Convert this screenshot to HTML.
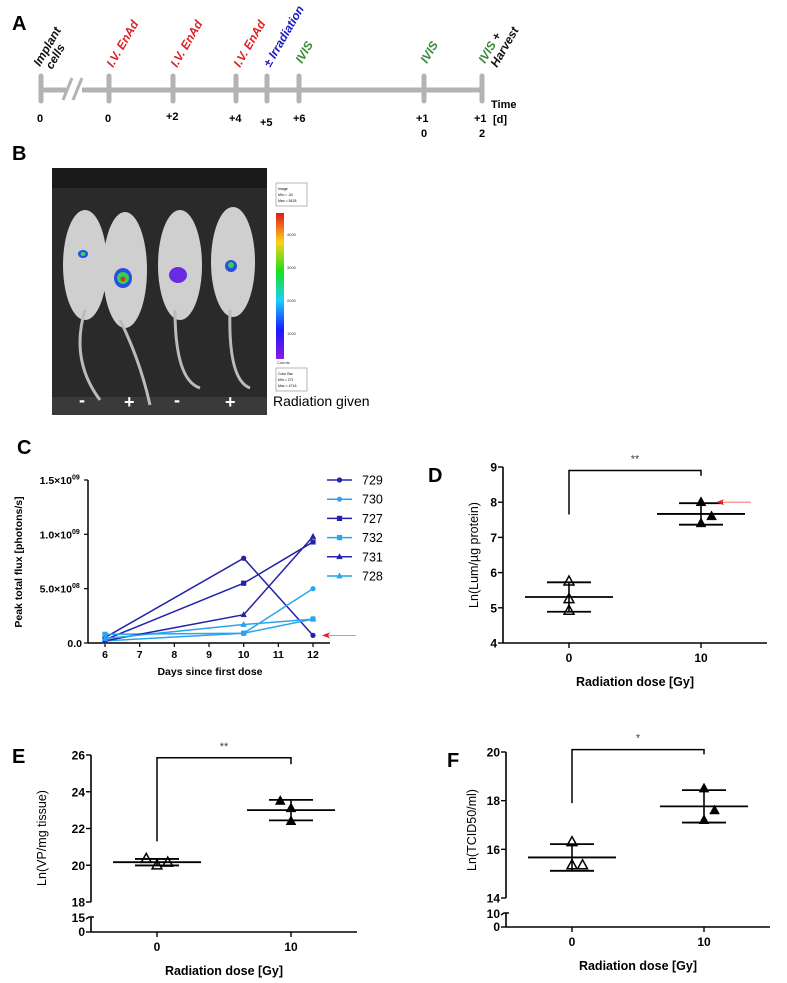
<!DOCTYPE html>
<html><head><meta charset="utf-8"><style>
body{margin:0;background:#fff;}
svg{display:block;font-family:"Liberation Sans",Arial,sans-serif;}
</style></head><body>
<svg id="fig" width="787" height="983" viewBox="0 0 787 983">
<g>
<text x="12" y="30" font-size="20" font-weight="bold">A</text>
<line x1="40" y1="90" x2="482" y2="90" stroke="#b3b3b3" stroke-width="5"/>
<rect x="66" y="78" width="16" height="24" fill="#fff"/>
<line x1="63" y1="100" x2="72" y2="78" stroke="#b3b3b3" stroke-width="3"/>
<line x1="73" y1="100" x2="82" y2="78" stroke="#b3b3b3" stroke-width="3"/>
<g stroke="#b3b3b3" stroke-width="5" stroke-linecap="round">
<line x1="41" y1="76" x2="41" y2="101"/><line x1="109" y1="76" x2="109" y2="101"/><line x1="173" y1="76" x2="173" y2="101"/>
<line x1="236" y1="76" x2="236" y2="101"/><line x1="267" y1="76" x2="267" y2="101"/><line x1="299" y1="76" x2="299" y2="101"/>
<line x1="424" y1="76" x2="424" y2="101"/><line x1="482" y1="76" x2="482" y2="101"/>
</g>
<g font-size="11" font-weight="bold">
<text x="37" y="122">0</text><text x="105" y="122">0</text><text x="166" y="120">+2</text><text x="229" y="122">+4</text>
<text x="260" y="126">+5</text><text x="293" y="122">+6</text><text x="416" y="122">+1</text><text x="421" y="137">0</text>
<text x="474" y="122">+1</text><text x="479" y="137">2</text>
<text x="491" y="108">Time</text><text x="493" y="123">[d]</text>
</g>
<g font-size="12" font-weight="bold" font-style="italic">
<text transform="translate(40,67) rotate(-60)" fill="#111">Implant</text>
<text transform="translate(52,70) rotate(-60)" fill="#111">cells</text>
<text transform="translate(113,68) rotate(-60)" fill="#d22">I.V. EnAd</text>
<text transform="translate(177,68) rotate(-60)" fill="#d22">I.V. EnAd</text>
<text transform="translate(240,68) rotate(-60)" fill="#d22">I.V. EnAd</text>
<text transform="translate(270,68) rotate(-60)" fill="#1a1abf">± Irradiation</text>
<text transform="translate(302,64) rotate(-60)" fill="#3a8a3a">IVIS</text>
<text transform="translate(427,64) rotate(-60)" fill="#3a8a3a">IVIS</text>
<text transform="translate(485,64) rotate(-60)"><tspan fill="#3a8a3a">IVIS</tspan><tspan fill="#111"> +</tspan></text>
<text transform="translate(497,68) rotate(-60)" fill="#111">Harvest</text>
</g>
</g>

<g>
<text x="12" y="160" font-size="20" font-weight="bold">B</text>
<rect x="52" y="168" width="215" height="247" fill="#2a2a2a"/>
<rect x="52" y="168" width="215" height="20" fill="#1a1a1a"/>
<rect x="52" y="397" width="215" height="18" fill="#3a3a3a"/>
<g fill="#cfcfcf">
<ellipse cx="85" cy="265" rx="22" ry="55"/><path d="M85 310 Q70 360 100 400" stroke="#bbb" stroke-width="3" fill="none"/>
<ellipse cx="125" cy="270" rx="22" ry="58"/><path d="M120 320 Q140 360 150 405" stroke="#bbb" stroke-width="3" fill="none"/>
<ellipse cx="180" cy="265" rx="22" ry="55"/><path d="M175 310 Q175 380 200 388" stroke="#bbb" stroke-width="3" fill="none"/>
<ellipse cx="233" cy="262" rx="22" ry="55"/><path d="M230 310 Q228 380 250 388" stroke="#bbb" stroke-width="3" fill="none"/>
</g>
<g>
<ellipse cx="83" cy="254" rx="5" ry="4" fill="#1f4fe0"/><ellipse cx="83" cy="254" rx="2.5" ry="2" fill="#3fd06a"/>
<ellipse cx="123" cy="278" rx="9" ry="10" fill="#2a4fe0"/><ellipse cx="123" cy="278" rx="6" ry="6" fill="#30d050"/><circle cx="123" cy="279" r="2.5" fill="#e03020"/>
<ellipse cx="178" cy="275" rx="9" ry="8" fill="#6a2ae0"/>
<ellipse cx="231" cy="266" rx="6" ry="6" fill="#2a4fe0"/><ellipse cx="231" cy="265" rx="3" ry="3" fill="#30d050"/>
</g>
<g fill="#fff" font-size="18" font-weight="bold">
<text x="79" y="406">-</text><text x="124" y="408">+</text><text x="174" y="406">-</text><text x="225" y="408">+</text>
</g>
<defs><linearGradient id="cb" x1="0" y1="1" x2="0" y2="0">
<stop offset="0" stop-color="#8a1ae0"/><stop offset="0.2" stop-color="#1a1aff"/><stop offset="0.4" stop-color="#1ad0ff"/>
<stop offset="0.6" stop-color="#1ae01a"/><stop offset="0.8" stop-color="#ffd01a"/><stop offset="1" stop-color="#e01a1a"/></linearGradient></defs>
<rect x="276" y="213" width="8" height="146" fill="url(#cb)"/>
<rect x="276" y="183" width="31" height="23" fill="#fff" stroke="#888" stroke-width="0.6"/>
<text x="278" y="190" font-size="3.5">Image</text><text x="278" y="196" font-size="3.5">Min = -34</text><text x="278" y="202" font-size="3.5">Max = 5428</text>
<rect x="276" y="368" width="31" height="23" fill="#fff" stroke="#888" stroke-width="0.6"/>
<text x="278" y="375" font-size="3.5">Color Bar</text><text x="278" y="381" font-size="3.5">Min = 271</text><text x="278" y="387" font-size="3.5">Max = 4716</text>
<g font-size="4" fill="#333"><text x="287" y="236">4000</text><text x="287" y="269">3000</text><text x="287" y="302">2000</text><text x="287" y="335">1000</text><text x="277" y="364">Counts</text></g>
<text x="273" y="406" font-size="14">Radiation given</text>
</g>

<g id="pc"></g>
<g id="pd"></g>
<g id="pe"></g>
<g id="pf"></g>
</svg>
<script>
// Panel C data
const cDays = [6, 10, 12];
const cMice = ["729", "730", "727", "732", "731", "728"];
const cFlux729 = [0.05e9, 0.78e9, 0.07e9];
const cFlux730 = [0.02e9, 0.09e9, 0.50e9];
const cFlux727 = [0.03e9, 0.55e9, 0.93e9];
const cFlux732 = [0.08e9, 0.09e9, 0.22e9];
const cFlux731 = [0.02e9, 0.26e9, 0.98e9];
const cFlux728 = [0.04e9, 0.17e9, 0.22e9];
const cYTicks = [0, 0.5e9, 1.0e9, 1.5e9];
const cYTickLabels = ["0.0", "5.0\u00d710", "1.0\u00d710", "1.5\u00d710"];
const cYTickExp = ["", "08", "09", "09"];
const cXTicks = [6, 7, 8, 9, 10, 11, 12];
// Panel D data
const dDoses = [0, 10];
const dGroup0 = [5.75, 5.25, 4.92];
const dGroup10 = [8.0, 7.6, 7.4];
const dOffsets0 = [0, 0, 0];
const dOffsets10 = [0, 0.8, 0];
const dYTicks = [4, 5, 6, 7, 8, 9];
// Panel E data
const eGroup0 = [20.35, 20.0, 20.15];
const eGroup10 = [23.5, 23.1, 22.4];
const eOffsets0 = [-0.8, 0, 0.8];
const eOffsets10 = [-0.8, 0, 0];
const eYTicks = [18, 20, 22, 24, 26];
// Panel F data
const fGroup0 = [16.3, 15.35, 15.35];
const fGroup10 = [18.5, 17.6, 17.2];
const fOffsets0 = [0, 0, 0.8];
const fOffsets10 = [0, 0.8, 0];
const fYTicks = [14, 16, 18, 20];

const NS = "http://www.w3.org/2000/svg";
function mk(parent, tag, attrs, txt) {
  const el = document.createElementNS(NS, tag);
  for (const k in attrs) el.setAttribute(k, attrs[k]);
  if (txt !== undefined) el.textContent = txt;
  parent.appendChild(el);
  return el;
}
function marker(g, shape, x, y, color, filled, s) {
  let el;
  if (shape === "circle") el = mk(g, "circle", {cx: x, cy: y, r: s, fill: color});
  else if (shape === "square") el = mk(g, "rect", {x: x - s, y: y - s, width: 2 * s, height: 2 * s, fill: color});
  else el = mk(g, "polygon", {points: (x) + "," + (y - s * 1.2) + " " + (x - s * 1.1) + "," + (y + s * 0.8) + " " + (x + s * 1.1) + "," + (y + s * 0.8),
    fill: filled ? color : "#fff", stroke: color, "stroke-width": filled ? 0.5 : 1.5});
  return el;
}

// ---------- Panel C ----------
(function () {
  const g = document.getElementById("pc");
  const x0 = 88, yb = 643, yt = 480;
  const xs = d => 105 + (d - 6) * (313 - 105) / 6;
  const ys = v => yb - v / 1.5e9 * (yb - yt);
  let t = mk(g, "text", {x: 17, y: 454, "font-size": 20, "font-weight": "bold"}, "C");
  
  
  let ax = mk(g, "line", {x1: x0, y1: yt, x2: x0, y2: yb, stroke: "#000", "stroke-width": 1.5});
  
  
  let axx = mk(g, "line", {x1: x0, y1: yb, x2: 330, y2: yb, stroke: "#000", "stroke-width": 1.5});
  
  
  cYTicks.forEach((v, i) => {
    mk(g, "line", {x1: x0 - 4, y1: ys(v), x2: x0, y2: ys(v), stroke: "#000", "stroke-width": 1.2});
    const tx = mk(g, "text", {x: x0 - 6, y: ys(v) + 4, "font-size": 10.5, "font-weight": "bold", "text-anchor": "end"});
    
    
    tx.textContent = cYTickLabels[i];
    if (cYTickExp[i]) {
      tx.setAttribute("x", x0 - 16);
      mk(g, "text", {x: x0 - 16, y: ys(v) - 0.5, "font-size": 7, "font-weight": "bold"}, cYTickExp[i]);
    }
  });
  cXTicks.forEach(d => {
    mk(g, "line", {x1: xs(d), y1: yb, x2: xs(d), y2: yb + 4, stroke: "#000", "stroke-width": 1.2});
    const tx = mk(g, "text", {x: xs(d), y: yb + 15, "font-size": 10.5, "font-weight": "bold", "text-anchor": "middle"}, d);
    
    
  });
  const yl = mk(g, "text", {transform: "translate(22,562) rotate(-90)", "font-size": 10.5, "font-weight": "bold", "text-anchor": "middle"}, "Peak total flux [photons/s]");
  
  
  const xl = mk(g, "text", {x: 210, y: 675, "font-size": 10.5, "font-weight": "bold", "text-anchor": "middle"}, "Days since first dose");
  
  
  const series = [cFlux729, cFlux730, cFlux727, cFlux732, cFlux731, cFlux728];
  const colors = ["#2323a8", "#2aa4ee", "#2323a8", "#2aa4ee", "#2323a8", "#2aa4ee"];
  const shapes = ["circle", "circle", "square", "square", "triangle", "triangle"];
  series.forEach((vals, si) => {
    const sg = mk(g, "g", {});
    
    
    const pts = vals.map((v, i) => xs(cDays[i]) + "," + ys(v)).join(" ");
    mk(sg, "polyline", {points: pts, fill: "none", stroke: colors[si], "stroke-width": 1.5});
    vals.forEach((v, i) => {
      const m = marker(sg, shapes[si], xs(cDays[i]), ys(v), colors[si], true, 2.6);
      
      
    });
    const ly = 480 + si * 19.2;
    const lg = mk(g, "g", {});
    
    
    mk(lg, "line", {x1: 327, y1: ly, x2: 352, y2: ly, stroke: colors[si], "stroke-width": 1.5});
    marker(lg, shapes[si], 339.5, ly, colors[si], true, 2.6);
    mk(lg, "text", {x: 362, y: ly + 4.5, "font-size": 12.5}, cMice[si]);
  });
  const ar = mk(g, "g", {});
  
  
  mk(ar, "line", {x1: 325, y1: ys(0.07e9), x2: 356, y2: ys(0.07e9), stroke: "#f06060", "stroke-width": 0.8});
  mk(ar, "polygon", {points: `322,${ys(0.07e9)} 330,${ys(0.07e9) - 3} 328,${ys(0.07e9)} 330,${ys(0.07e9) + 3}`, fill: "#e02020"});
})();

// ---------- Scatter panels ----------
function scatterPanel(id, cfg) {
  const g = document.getElementById(id);
  const xs = d => cfg.x0px + d * (cfg.x10px - cfg.x0px) / 10;
  const ys = v => cfg.ybot - (v - cfg.ymin) / (cfg.ymax - cfg.ymin) * (cfg.ybot - cfg.ytop);
  const L = mk(g, "text", {x: cfg.lx, y: cfg.ly, "font-size": 20, "font-weight": "bold"}, cfg.letter);
  
  
  const axisBottom = cfg.zeroPx || cfg.ybot;
  const ya = mk(g, "path", {d: cfg.breakPx ? `M${cfg.axX},${cfg.ytop} V${cfg.ybot} M${cfg.axX},${cfg.breakPx} V${axisBottom}` : `M${cfg.axX},${cfg.ytop} V${cfg.ybot}`, stroke: "#000", "stroke-width": 1.6, fill: "none"});
  
  
  const xa = mk(g, "line", {x1: cfg.axX, y1: axisBottom, x2: cfg.axEnd, y2: axisBottom, stroke: "#000", "stroke-width": 1.6});
  
  
  cfg.yTicks.forEach(v => {
    mk(g, "line", {x1: cfg.axX - 5, y1: ys(v), x2: cfg.axX, y2: ys(v), stroke: "#000", "stroke-width": 1.4});
    const tx = mk(g, "text", {x: cfg.axX - 6, y: ys(v) + 4.5, "font-size": 12, "font-weight": "bold", "text-anchor": "end"}, v);
    
    
  });
  if (cfg.breakPx) {
    mk(g, "path", {d: `M${cfg.axX - 5},${cfg.breakPx + 2} L${cfg.axX - 2},${cfg.breakPx} H${cfg.axX + 3}`, stroke: "#000", "stroke-width": 1.4, fill: "none"});
    mk(g, "line", {x1: cfg.axX - 5, y1: cfg.zeroPx, x2: cfg.axX, y2: cfg.zeroPx, stroke: "#000", "stroke-width": 1.4});
    mk(g, "text", {x: cfg.axX - 6, y: cfg.breakPx + 5, "font-size": 12, "font-weight": "bold", "text-anchor": "end"}, cfg.breakLabel);
    mk(g, "text", {x: cfg.axX - 6, y: cfg.zeroPx + 4, "font-size": 12, "font-weight": "bold", "text-anchor": "end"}, "0");
  }
  dDoses.forEach(d => {
    mk(g, "line", {x1: xs(d), y1: axisBottom, x2: xs(d), y2: axisBottom + 5, stroke: "#000", "stroke-width": 1.4});
    const tx = mk(g, "text", {x: xs(d), y: axisBottom + 19, "font-size": 12, "font-weight": "bold", "text-anchor": "middle"}, d);
    
    
  });
  const xt = mk(g, "text", {x: (xs(0) + xs(10)) / 2, y: axisBottom + 43, "font-size": 12.5, "font-weight": "bold", "text-anchor": "middle"}, "Radiation dose [Gy]");
  
  
  const yt = mk(g, "text", {transform: `translate(${cfg.ytX},${cfg.ytY}) rotate(-90)`, "font-size": 12.5, "text-anchor": "middle"}, cfg.yTitle);
  
  
  [[cfg.g0, cfg.o0, false, 0], [cfg.g10, cfg.o10, true, 10]].forEach(([vals, offs, filled, dose]) => {
    const n = vals.length;
    const mean = vals.reduce((a, b) => a + b, 0) / n;
    const sd = Math.sqrt(vals.reduce((a, b) => a + (b - mean) ** 2, 0) / (n - 1));
    const cx = xs(dose);
    const sg = mk(g, "g", {});
    
    
    vals.forEach((v, i) => {
      const m = marker(sg, "triangle", xs(dose + offs[i]), ys(v), "#000", filled, 4.5);
      
      
    });
    mk(sg, "line", {x1: cx, y1: ys(mean + sd), x2: cx, y2: ys(mean - sd), stroke: "#000", "stroke-width": 1.6});
    mk(sg, "line", {x1: cx - 44, y1: ys(mean), x2: cx + 44, y2: ys(mean), stroke: "#000", "stroke-width": 1.8});
    mk(sg, "line", {x1: cx - 22, y1: ys(mean + sd), x2: cx + 22, y2: ys(mean + sd), stroke: "#000", "stroke-width": 1.8});
    mk(sg, "line", {x1: cx - 22, y1: ys(mean - sd), x2: cx + 22, y2: ys(mean - sd), stroke: "#000", "stroke-width": 1.8});
  });
  const br = mk(g, "path", {d: `M${xs(0)},${ys(cfg.legL)} V${ys(cfg.bracket)} H${xs(10)} V${ys(cfg.legR)}`, stroke: "#000", "stroke-width": 1.5, fill: "none"});
  
  
  const st = mk(g, "text", {x: (xs(0) + xs(10)) / 2, y: ys(cfg.bracket) - 8, "font-size": 11, fill: "#444", "text-anchor": "middle"}, cfg.stars);
  
  
  if (cfg.arrow) {
    const y = ys(cfg.arrow);
    const a = mk(g, "g", {});
    
    
    mk(a, "line", {x1: xs(10) + 18, y1: y, x2: xs(10) + 50, y2: y, stroke: "#f06060", "stroke-width": 0.8});
    mk(a, "polygon", {points: `${xs(10) + 15},${y} ${xs(10) + 23},${y - 3} ${xs(10) + 21},${y} ${xs(10) + 23},${y + 3}`, fill: "#e02020"});
  }
}
scatterPanel("pd", {letter: "D", lx: 428, ly: 482, x0px: 569, x10px: 701, axX: 503, axEnd: 767, ymin: 4, ymax: 9, ybot: 643, ytop: 467,
  yTicks: dYTicks, g0: dGroup0, o0: dOffsets0, g10: dGroup10, o10: dOffsets10, bracket: 8.9, legL: 7.65, legR: 8.75, stars: "**",
  yTitle: "Ln(Lum/\u00b5g protein)", ytX: 478, ytY: 555, arrow: 8.0});
scatterPanel("pe", {letter: "E", lx: 12, ly: 763, x0px: 157, x10px: 291, axX: 91, axEnd: 357, ymin: 18, ymax: 26, ybot: 902, ytop: 755,
  breakPx: 917, zeroPx: 932, breakLabel: "15",
  yTicks: eYTicks, g0: eGroup0, o0: eOffsets0, g10: eGroup10, o10: eOffsets10, bracket: 25.85, legL: 21.3, legR: 25.5, stars: "**",
  yTitle: "Ln(VP/mg tissue)", ytX: 46, ytY: 838});
scatterPanel("pf", {letter: "F", lx: 447, ly: 767, x0px: 572, x10px: 704, axX: 506, axEnd: 770, ymin: 14, ymax: 20, ybot: 898, ytop: 752,
  breakPx: 913, zeroPx: 927, breakLabel: "10",
  yTicks: fYTicks, g0: fGroup0, o0: fOffsets0, g10: fGroup10, o10: fOffsets10, bracket: 20.1, legL: 17.9, legR: 19.9, stars: "*",
  yTitle: "Ln(TCID50/ml)", ytX: 476, ytY: 830});
</script>
</body></html>
